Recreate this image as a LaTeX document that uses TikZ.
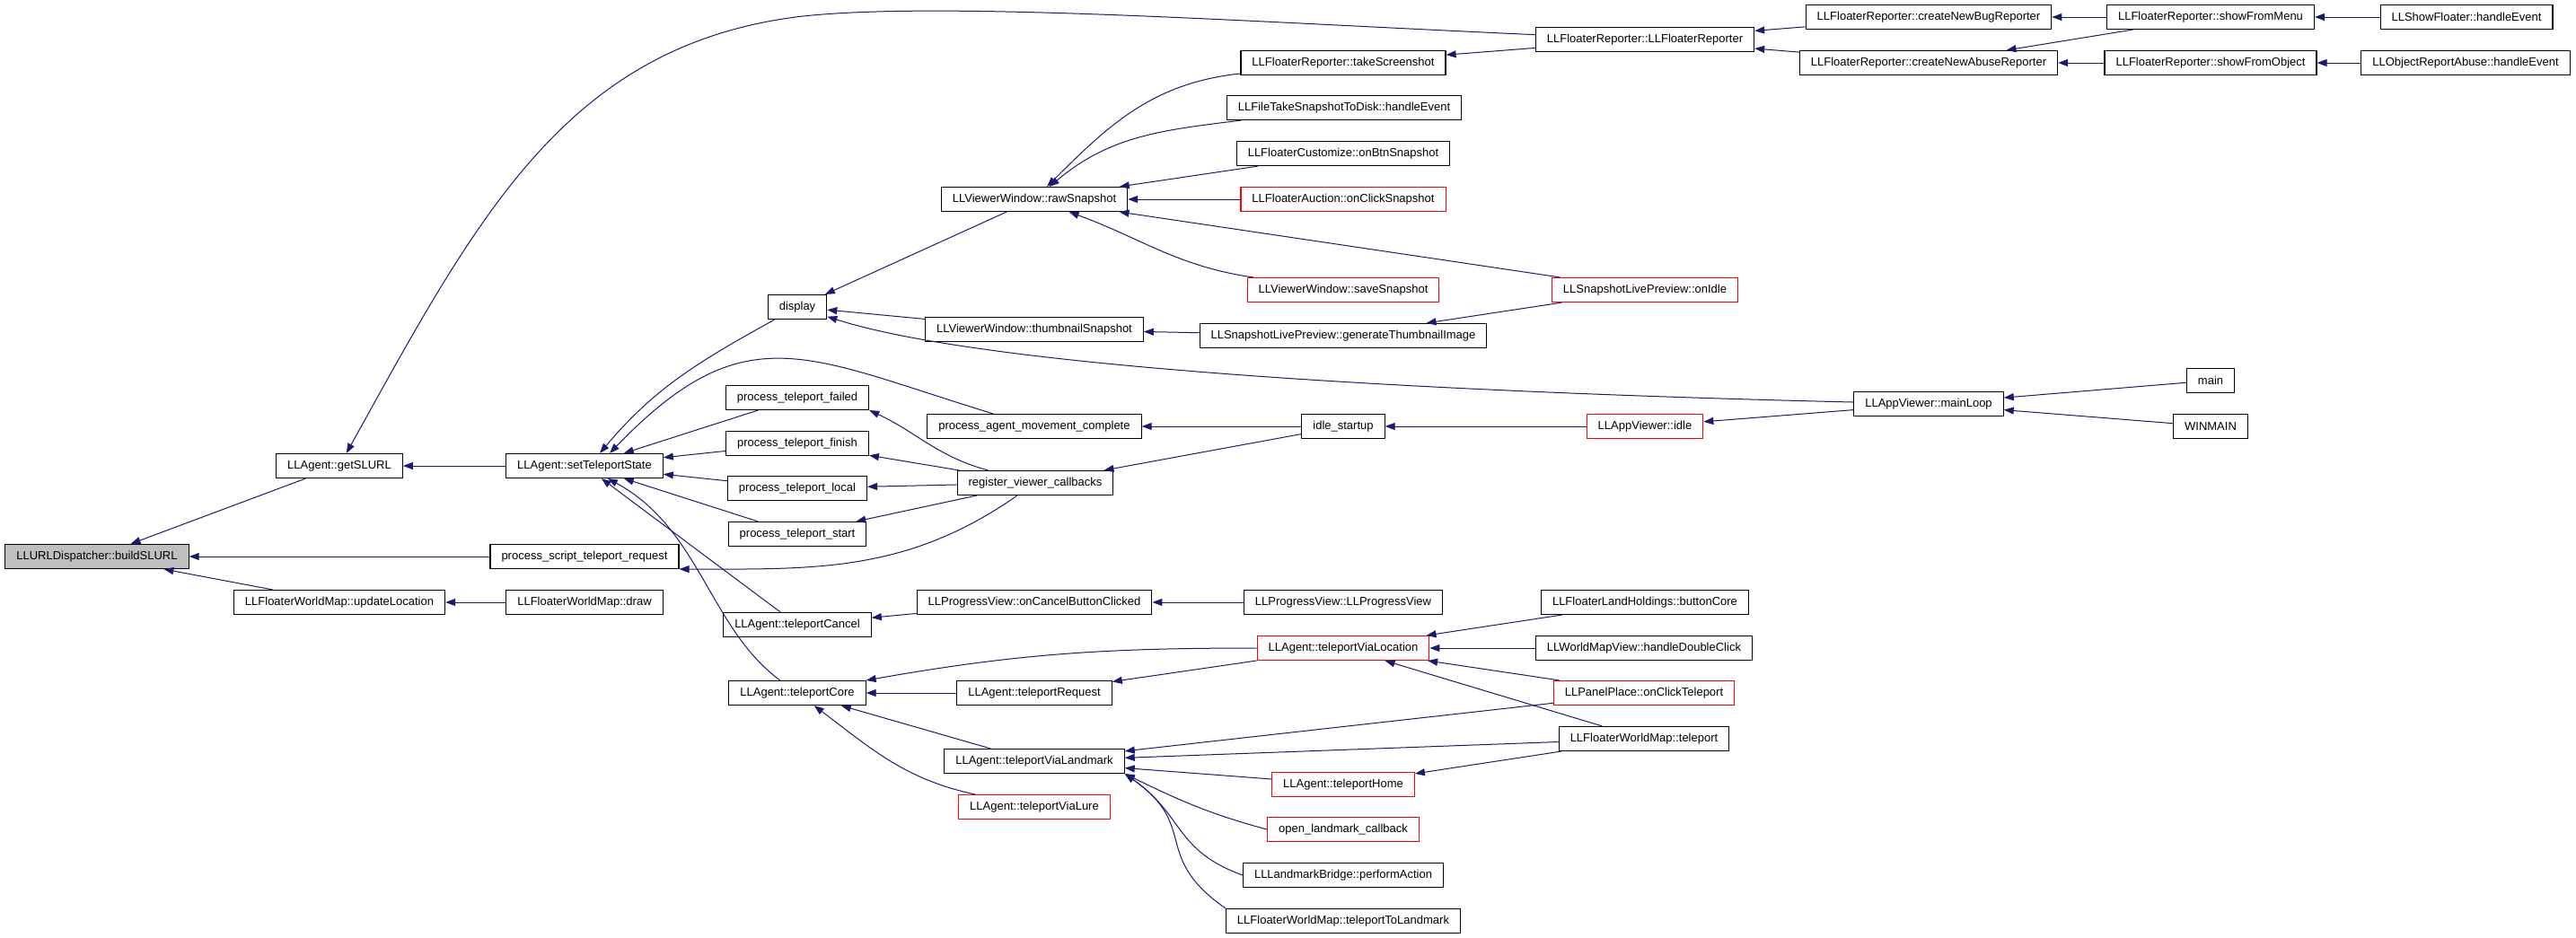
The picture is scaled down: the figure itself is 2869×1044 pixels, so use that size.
\documentclass[tikz,border=0pt]{standalone}
\usepackage{fontspec}
\setmainfont{Liberation Sans}
\usetikzlibrary{arrows.meta}
\definecolor{callblue}{HTML}{191970}
\definecolor{rootgray}{HTML}{BFBFBF}
\definecolor{boxred}{HTML}{FF0000}
\begin{document}
\begin{tikzpicture} [x = 1pt, y = 1pt, -> , >= {Triangle[length = 11pt, width = 8pt]}, line width = 1pt,
        fn/.style = {draw, line width = 1.1pt, minimum height = 27pt, inner xsep = 12.5pt, inner ysep = 0pt, font = \fontsize{13}{15}\selectfont},
        fnred/.style = {fn, draw = boxred},
        fnroot/.style = {fn, fill = rootgray},
        calls/.style = {draw = callblue},
        every edge/.style = {calls}]
        \useasboundingbox (0,0) rectangle (2869,-1044);

        \node [fnroot] (build) at (108,-620) {LLURLDispatcher::buildSLURL};

        \node [fn] (getslurl) at (378,-519) {LLAgent::getSLURL};
        \node [fn] (updloc) at (378,-671) {LLFloaterWorldMap::updateLocation};

        \node [fn] (setstate) at (651,-519) {LLAgent::setTeleportState};
        \node [fn] (script) at (651,-620) {process\_script\_teleport\_request};
        \node [fn] (wmdraw) at (651,-671) {LLFloaterWorldMap::draw};

        \node [fn] (display) at (888,-342) {display};
        \node [fn] (failed) at (888,-443) {process\_teleport\_failed};
        \node [fn] (finish) at (888,-494) {process\_teleport\_finish};
        \node [fn] (local) at (888,-544) {process\_teleport\_local};
        \node [fn] (start) at (888,-595) {process\_teleport\_start};
        \node [fn] (cancel) at (888,-696) {LLAgent::teleportCancel};
        \node [fn] (core) at (888,-772) {LLAgent::teleportCore};

        \node [fn] (raw) at (1152,-222) {LLViewerWindow::rawSnapshot};
        \node [fn] (thumb) at (1152,-367) {LLViewerWindow::thumbnailSnapshot};
        \node [fn] (pamc) at (1152,-475) {process\_agent\_movement\_complete};
        \node [fn] (register) at (1153,-538) {register\_viewer\_callbacks};
        \node [fn] (cancelbtn) at (1152,-671) {LLProgressView::onCancelButtonClicked};
        \node [fn] (request) at (1152,-772) {LLAgent::teleportRequest};
        \node [fn] (landmark) at (1152,-848) {LLAgent::teleportViaLandmark};
        \node [fnred] (lure) at (1152,-899) {LLAgent::teleportViaLure};

        \node [fn] (shot) at (1496,-70) {LLFloaterReporter::takeScreenshot};
        \node [fn] (filetake) at (1497,-120) {LLFileTakeSnapshotToDisk::handleEvent};
        \node [fn] (btnsnap) at (1496,-171) {LLFloaterCustomize::onBtnSnapshot};
        \node [fnred] (auction) at (1496,-222) {LLFloaterAuction::onClickSnapshot};
        \node [fnred] (save) at (1496,-323) {LLViewerWindow::saveSnapshot};
        \node [fn] (gen) at (1496,-374) {LLSnapshotLivePreview::generateThumbnailImage};
        \node [fn] (istartup) at (1496,-475) {idle\_startup};
        \node [fn] (progview) at (1496,-671) {LLProgressView::LLProgressView};
        \node [fnred] (vialoc) at (1496,-722) {LLAgent::teleportViaLocation};
        \node [fnred] (home) at (1496,-874) {LLAgent::teleportHome};
        \node [fnred] (openlm) at (1496,-924) {open\_landmark\_callback};
        \node [fn] (perform) at (1496,-975) {LLLandmarkBridge::performAction};
        \node [fn] (tolandmark) at (1496,-1026) {LLFloaterWorldMap::teleportToLandmark};

        \node [fn] (reporter) at (1832,-44) {LLFloaterReporter::LLFloaterReporter};
        \node [fnred] (onidle) at (1832,-323) {LLSnapshotLivePreview::onIdle};
        \node [fnred] (appidle) at (1832,-475) {LLAppViewer::idle};
        \node [fn] (buttoncore) at (1832,-671) {LLFloaterLandHoldings::buttonCore};
        \node [fn] (dblclick) at (1831,-722) {LLWorldMapView::handleDoubleClick};
        \node [fnred] (onclick) at (1831,-772) {LLPanelPlace::onClickTeleport};
        \node [fn] (fwmteleport) at (1831,-823) {LLFloaterWorldMap::teleport};

        \node [fn] (bug) at (2148,-19) {LLFloaterReporter::createNewBugReporter};
        \node [fn] (abuse) at (2148,-70) {LLFloaterReporter::createNewAbuseReporter};
        \node [fn] (mainloop) at (2148,-450) {LLAppViewer::mainLoop};

        \node [fn] (menu) at (2462,-19) {LLFloaterReporter::showFromMenu};
        \node [fn] (object) at (2462,-70) {LLFloaterReporter::showFromObject};
        \node [fn] (main) at (2462,-424) {main};
        \node [fn] (winmain) at (2462,-475) {WINMAIN};

        \node [fn] (showfloater) at (2747,-19) {LLShowFloater::handleEvent};
        \node [fn] (objabuse) at (2746,-70) {LLObjectReportAbuse::handleEvent};

        \path (getslurl) edge (build);
        \path (script) edge (build);
        \path (updloc) edge (build);
        \path (setstate) edge (getslurl);
        \draw [calls] (reporter) .. controls (1400,-25) and (1040,0) .. (886,-19) .. controls (629,-53) and (531,-243) .. (getslurl);
        \path (wmdraw) edge (updloc);

        \path (display) edge [out = 209, in = 50] ([xshift = 17pt]setstate.north);
        \path (pamc) edge [out = 163, in = 46, looseness = 1.3] ([xshift = 28pt]setstate.north);
        \path (failed) edge (setstate);
        \path (finish) edge (setstate);
        \path (local) edge (setstate);
        \path (start) edge (setstate);
        \path (cancel) edge (setstate);
        \draw [calls] (core) .. controls (790,-700) and (780,-589) .. (setstate);

        \path (raw) edge (display);
        \path (thumb) edge (display);
        \draw [calls] (mainloop) .. controls (1600,-437) and (1100,-410) .. (display);
        \path (gen) edge (thumb);
        \path (onidle) edge (gen);
        \path (onidle) edge (raw);
        \path (shot) edge [out = 186, in = 45] (raw);
        \path (filetake) edge [out = 187, in = 40] (raw);
        \path (btnsnap) edge (raw);
        \path (auction) edge (raw);
        \path (save) edge [out = 172, in = -20] (raw);

        \path (reporter) edge (shot);
        \path (bug) edge (reporter);
        \path (abuse) edge (reporter);
        \path (menu) edge (bug);
        \path (menu) edge (abuse);
        \path (object) edge (abuse);
        \path (showfloater) edge (menu);
        \path (objabuse) edge (object);

        \path (istartup) edge (pamc);
        \path (istartup) edge (register);
        \path (appidle) edge (istartup);
        \path (mainloop) edge (appidle);
        \path (main) edge (mainloop);
        \path (winmain) edge (mainloop);

        \path (register) edge [out = 165, in = -25] (failed.south east);
        \path (register) edge (finish);
        \path (register) edge (local);
        \path (register) edge (start);
        \path (register) edge [out = 215, in = 0] (script.south east);

        \path (cancelbtn) edge (cancel);
        \path (progview) edge (cancelbtn);

        \path (vialoc) edge [out = 180, in = 10] (core.north east);
        \path (request) edge (core);
        \path (vialoc) edge (request);
        \path (landmark) edge (core);
        \path (lure) edge [out = 168, in = -37] (core);

        \path (buttoncore) edge (vialoc);
        \path (dblclick) edge (vialoc);
        \path (onclick) edge (vialoc);
        \path (fwmteleport) edge (vialoc);
        \path (onclick) edge (landmark);
        \path (fwmteleport) edge (landmark);
        \path (fwmteleport) edge (home);
        \path (home) edge (landmark);
        \path (openlm.west) edge [out = 165, in = -26] (landmark.south east);
        \path (perform.west) edge [out = 160, in = -35, looseness = 1.2] (landmark.south east);
        \path (tolandmark.north west) edge [out = 145, in = -35, looseness = 1.4] (landmark.south east);

    \end{tikzpicture}
\end{document}
